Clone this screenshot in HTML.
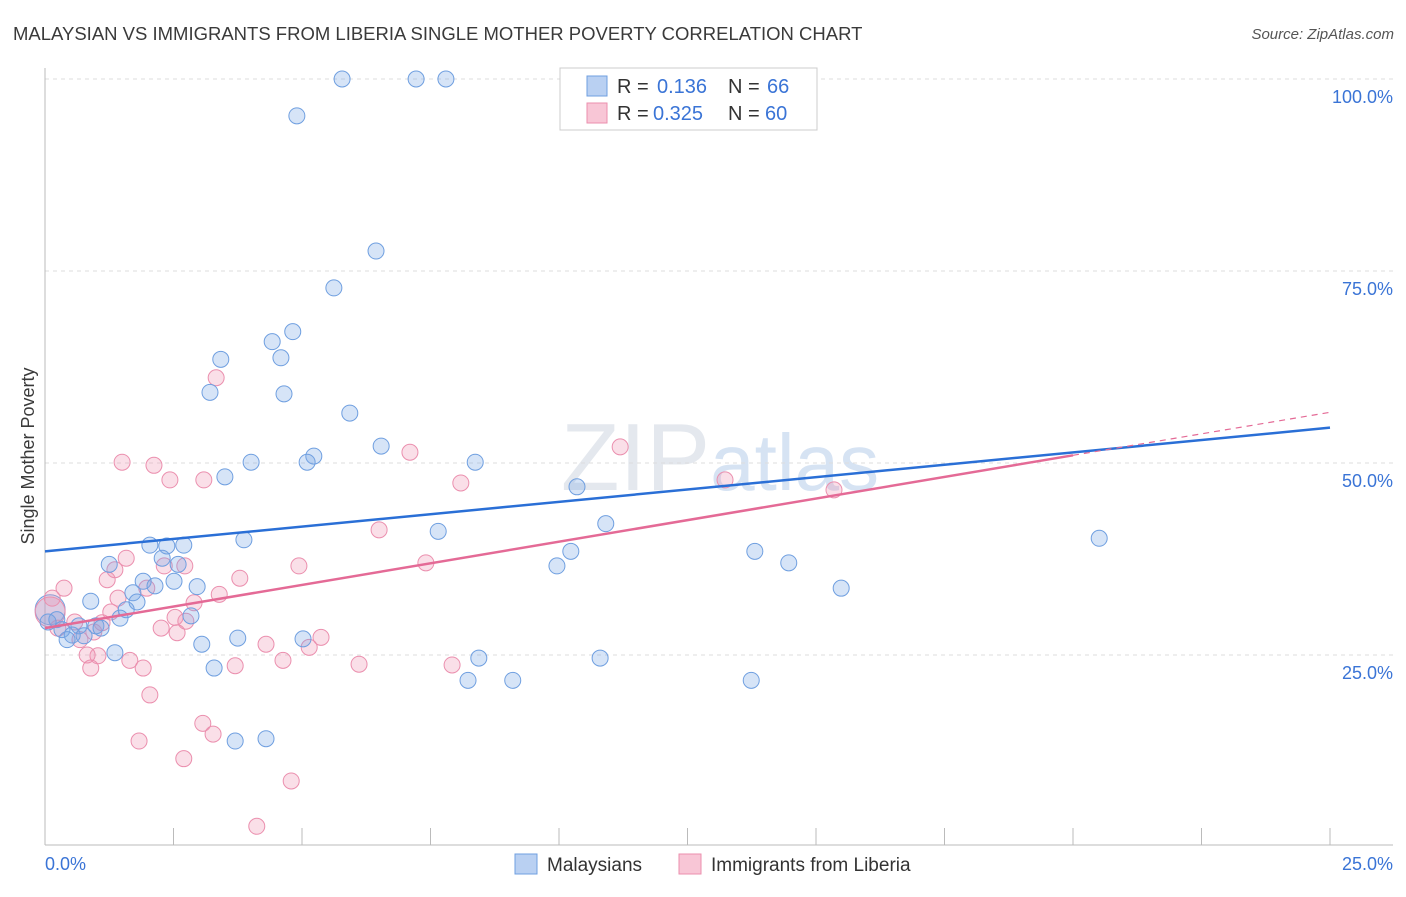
<!DOCTYPE html>
<html><head><meta charset="utf-8">
<style>
body{margin:0;background:#fff;font-family:"Liberation Sans",sans-serif;}
svg text{font-family:"Liberation Sans",sans-serif;}
</style></head>
<body>
<svg id="chart" width="1406" height="892" xmlns="http://www.w3.org/2000/svg">
<text x="13" y="40" font-size="18.5" fill="#3a3a3a">MALAYSIAN VS IMMIGRANTS FROM LIBERIA SINGLE MOTHER POVERTY CORRELATION CHART</text>
<text x="1394" y="39" font-size="15" fill="#555" text-anchor="end" font-style="italic">Source: ZipAtlas.com</text>
<text x="720" y="490" font-size="96" fill="#e4e8ee" text-anchor="middle" font-family="Liberation Serif">ZIP<tspan fill="#d6e3f3" font-family="Liberation Sans" font-size="80">atlas</tspan></text>
<text transform="translate(34,456) rotate(-90)" font-size="18" fill="#3a3a3a" text-anchor="middle">Single Mother Poverty</text>
<g id="grid"></g>
<g id="axes"></g>
<g id="marks"></g>
<g>
<rect x="560" y="68" width="257" height="62" fill="#fff" stroke="#ccc"/>
<rect x="587" y="76" width="20" height="20" fill="#b9d0f2" stroke="#6f9fe0"/>
<text y="93" font-size="20" fill="#333"><tspan x="617">R = </tspan><tspan x="657" fill="#3a74d6">0.136</tspan><tspan x="728">N = </tspan><tspan x="767" fill="#3a74d6">66</tspan></text>
<rect x="587" y="103" width="20" height="20" fill="#f8c6d6" stroke="#eb8fae"/>
<text y="120" font-size="20" fill="#333"><tspan x="617">R = </tspan><tspan x="653" fill="#3a74d6">0.325</tspan><tspan x="728">N = </tspan><tspan x="765" fill="#3a74d6">60</tspan></text>
</g>
<g>
<rect x="515" y="854" width="22" height="20" fill="#b9d0f2" stroke="#6f9fe0"/>
<text x="547" y="871" font-size="19" fill="#333">Malaysians</text>
<rect x="679" y="854" width="22" height="20" fill="#f8c6d6" stroke="#eb8fae"/>
<text x="711" y="871" font-size="19" fill="#333">Immigrants from Liberia</text>
</g>
</svg>
<script>
const xTicks=[0,2.5,5,7.5,10,12.5,15,17.5,20,22.5,25];
const yTicks=[25,50,75,100];
const yTickLabels=["25.0%","50.0%","75.0%","100.0%"];
const blueX=[5.78,7.22,7.80,4.90,6.44,5.62,4.82,4.42,4.59,3.42,4.65,3.21,5.93,6.54,5.23,5.10,4.01,8.37,3.50,10.35,7.65,10.91,3.87,2.04,2.37,2.70,2.28,10.23,9.96,13.81,14.47,20.51,1.25,2.59,1.91,2.51,2.14,2.96,1.71,0.89,1.79,1.58,2.84,1.46,0.23,0.06,0.99,1.09,0.66,0.33,0.53,0.76,0.43,3.05,3.75,5.02,1.36,8.44,10.80,3.29,8.23,9.10,13.74,3.70,4.30,15.49];
const blueY=[100,100,100,95.2,77.6,72.8,67.1,65.8,63.7,63.5,59.0,59.2,56.5,52.2,50.9,50.1,50.1,50.1,48.2,46.9,41.1,42.1,40.0,39.3,39.2,39.3,37.6,38.5,36.6,38.5,37.0,40.2,36.8,36.8,34.6,34.6,34.0,33.9,33.1,32.0,31.9,30.9,30.1,29.8,29.6,29.3,28.8,28.5,28.8,28.3,27.6,27.5,27.0,26.4,27.2,27.1,25.3,24.6,24.6,23.3,21.7,21.7,21.7,13.8,14.1,33.7];
const pinkX=[3.33,1.50,2.12,2.43,3.09,7.10,8.09,11.19,13.23,15.35,6.50,7.41,1.58,1.36,1.21,0.37,2.32,2.72,4.94,3.79,1.98,1.42,3.39,2.90,1.28,2.53,2.74,2.26,2.57,1.11,0.95,0.68,0.14,5.37,5.14,4.30,1.03,0.82,1.65,0.89,1.91,3.70,4.63,6.11,7.92,2.04,3.07,3.27,1.83,2.70,4.79,4.12,0.58,0.25];
const pinkY=[61.1,50.1,49.7,47.8,47.8,51.4,47.4,52.1,47.8,46.5,41.3,37.0,37.6,36.1,34.8,33.7,36.6,36.6,36.6,35.0,33.7,32.4,32.9,31.8,30.6,29.9,29.4,28.5,27.9,29.2,28.0,27.0,32.4,27.3,26.0,26.4,24.9,25.0,24.3,23.3,23.3,23.6,24.3,23.8,23.7,19.8,16.1,14.7,13.8,11.5,8.6,2.7,29.3,28.5];
const bigX=[0.1,0.1];
const bigY=[30.9,30.6];
const blueTrend=[38.5,54.6];
const pinkTrend=[28.5,51.0,56.6];
const NS="http://www.w3.org/2000/svg";
const X=v=>45+v/25*1285;
const Y=v=>847-v/25*192;
function mk(tag,attrs,parent){const e=document.createElementNS(NS,tag);for(const k in attrs)e.setAttribute(k,attrs[k]);document.getElementById(parent).appendChild(e);return e;}
yTicks.forEach((t,i)=>{
 const g=mk('line',{x1:45,x2:1393,y1:Y(t),y2:Y(t),stroke:'#ddd','stroke-dasharray':'4,4'},'grid');
 
 
 const l=mk('text',{x:1393,y:Y(t)+24,'font-size':18,fill:'#3a74d6','text-anchor':'end'},'axes');
 l.textContent=yTickLabels[i];
 
 
});
let a=mk('line',{x1:45,x2:45,y1:68,y2:845,stroke:'#bbb'},'axes');


a=mk('line',{x1:45,x2:1393,y1:845,y2:845,stroke:'#bbb'},'axes');


xTicks.forEach(t=>{
 const k=mk('line',{x1:X(t),x2:X(t),y1:828,y2:845,stroke:'#bbb'},'axes');
 
 
});
let t0=mk('text',{x:45,y:870,'font-size':18,fill:'#3a74d6'},'axes');t0.textContent="0.0%";


let t1=mk('text',{x:1393,y:870,'font-size':18,fill:'#3a74d6','text-anchor':'end'},'axes');t1.textContent="25.0%";


bigX.forEach((x,i)=>{
 const c=mk('circle',{cx:X(x),cy:Y(bigY[i]),r:15,fill:i?'rgba(240,150,180,0.3)':'rgba(120,165,230,0.3)',stroke:i?'#eb8fae':'#6f9fe0'},'marks');
 
 
});
pinkX.forEach((x,i)=>{
 const c=mk('circle',{cx:X(x),cy:Y(pinkY[i]),r:8,fill:'rgba(240,150,180,0.3)',stroke:'#eb8fae','stroke-width':1},'marks');
 
 
});
blueX.forEach((x,i)=>{
 const c=mk('circle',{cx:X(x),cy:Y(blueY[i]),r:8,fill:'rgba(120,165,230,0.3)',stroke:'#6f9fe0','stroke-width':1},'marks');
 
 
});
let l=mk('line',{x1:X(0),y1:Y(blueTrend[0]),x2:X(25),y2:Y(blueTrend[1]),stroke:'#2a6fd6','stroke-width':2.5},'marks');


l=mk('line',{x1:X(0),y1:Y(pinkTrend[0]),x2:X(20),y2:Y(pinkTrend[1]),stroke:'#e46a96','stroke-width':2.5},'marks');


l=mk('line',{x1:X(20),y1:Y(pinkTrend[1]),x2:X(25),y2:Y(pinkTrend[2]),stroke:'#e46a96','stroke-width':1.2,'stroke-dasharray':'6,5'},'marks');


</script>
</body></html>
